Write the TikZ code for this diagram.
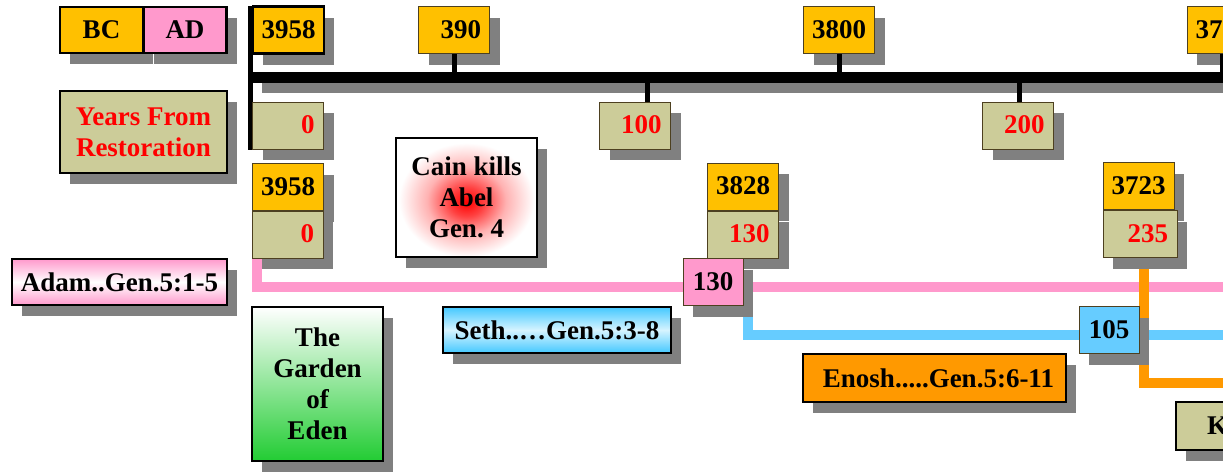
\documentclass[tikz,border=0pt]{standalone}
\usepackage{fontspec}
\setmainfont{Liberation Serif}
\usetikzlibrary{shadows,calc}
\frenchspacing
\definecolor{gold}{HTML}{FFC000}
\definecolor{pinkc}{HTML}{FF99CC}
\definecolor{khaki}{HTML}{CCCC99}
\definecolor{skyc}{HTML}{66CCFF}
\definecolor{sethtop}{HTML}{44C8FF}
\definecolor{sethmid}{HTML}{D6F4FF}
\definecolor{orangec}{HTML}{FF9900}
\definecolor{greenc}{HTML}{22CC33}
\definecolor{shadowgray}{HTML}{808080}
\definecolor{thinb}{HTML}{4D4020}
\pgfdeclareradialshading{cainglow}{\pgfpoint{0bp}{-2bp}}{color(0bp)=(red);color(6bp)=(red!75!white);color(14bp)=(red!30!white);color(24bp)=(white);color(50bp)=(white)}
\tikzset{
  shad/.style={drop shadow={shadow xshift=10pt,shadow yshift=-11pt,fill=shadowgray,opacity=1}},
  thickbox/.style={draw=black,line width=2.5pt,shad,inner sep=0pt,align=center},
  thinbox/.style={draw=thinb,line width=1pt,shad,inner sep=0pt},
  numtext/.style={align=right,text height=16pt,text depth=0pt},
  ybox/.style={thinbox,numtext,fill=gold,minimum width=71pt,minimum height=47pt,text width=54pt},
  kbox/.style={thinbox,numtext,fill=khaki,text=red,minimum width=71pt,minimum height=47pt,text width=53pt},
  cbox/.style={thinbox,align=center,text height=16pt,text depth=0pt,minimum width=60pt,minimum height=47pt},
  tickline/.style={line width=5pt},
  lifeline/.style={line width=9.5pt},
}
\begin{document}
\begin{tikzpicture}[x=1pt,y=-1pt,font=\fontsize{27}{31}\selectfont\bfseries]
\useasboundingbox (0,0) rectangle (1223,475);
\clip (0,0) rectangle (1223,475);

% timeline
\coordinate (tlL) at (248,77.5);
\coordinate (tlR) at (1240,77.5);
\coordinate (tsL) at (262,88);
\coordinate (tsR) at (1240,88);
\draw[shadowgray,line width=10pt] (tsL) -- (tsR);
\draw[line width=11pt] (tlL) -- (tlR);
\coordinate (vT) at (250.5,6);
\coordinate (vB) at (250.5,150);
\draw[line width=5pt] (vT) -- (vB);

% life lines
\coordinate (pinkA) at (257,258);
\coordinate (pinkB) at (257,287);
\coordinate (pinkC) at (1240,287);
\draw[lifeline,pinkc] (pinkA) -- (pinkB) -- (pinkC);
\coordinate (blueA) at (748,306);
\coordinate (blueB) at (748,335);
\coordinate (blueC) at (1240,335);
\draw[lifeline,skyc] (blueA) -- (blueB) -- (blueC);
\coordinate (oraA) at (1144,258);
\coordinate (oraB) at (1144,383);
\coordinate (oraC) at (1240,383);
\draw[lifeline,orangec] (oraA) -- (oraB) -- (oraC);

% legend
\node[thickbox,fill=gold,minimum width=83pt,minimum height=46pt] (bc) at (101.5,30) {BC};
\node[thickbox,fill=pinkc,minimum width=83pt,minimum height=46pt] (ad) at (185,30) {AD};
\node[thickbox,fill=khaki,text=red,minimum width=167pt,minimum height=82pt] (yfr) at (143.5,132) {Years From\\Restoration};

% timeline labels
\node[ybox,draw=black,line width=2.5pt] (t3958) at (288.5,30) {3958};
\node[ybox] (t390) at (454,30) {390};
\node[ybox] (t3800) at (839,30) {3800};
\node[ybox] (t37) at (1222.5,30) {3700};
\node[kbox] (k0) at (288,125.5) {0};
\node[kbox] (k100) at (635,125.5) {100};
\node[kbox] (k200) at (1018,125.5) {200};

% ticks
\draw[tickline] (t390.south) -- (t390.south |- tlL);
\draw[tickline] (t3800.south) -- (t3800.south |- tlL);
\draw[tickline] (t37.south) -- (t37.south |- tlL);
\draw[tickline] ($(k100.north)+(12,0)$) -- ($(k100.north |- tlL)+(12,0)$);
\draw[tickline] ($(k200.north)+(1,0)$) -- ($(k200.north |- tlL)+(1,0)$);

% event
\node[thickbox,shading=cainglow,minimum width=141pt,minimum height=119pt] (cain) at (466.5,197.5) {Cain kills\\Abel\\Gen. 4};

% births
\node[ybox] (b3958) at (288,187) {3958};
\node[kbox] (b0) at (287.5,234.5) {0};
\node[ybox] (b3828) at (743,186.5) {3828};
\node[kbox] (b130) at (743,234.5) {130};
\node[ybox] (b3723) at (1138.5,186) {3723};
\node[kbox,minimum width=74pt,text width=56pt] (b235) at (1140,234) {235};

% begetting ages
\node[cbox,fill=pinkc] (a130) at (713,282) {130};
\node[cbox,fill=skyc] (a105) at (1109,330) {105};

% persons
\node[thickbox,top color=pinkc,bottom color=pinkc,middle color=white,minimum width=215pt,minimum height=46pt] (adam) at (119.5,282) {Adam..Gen.5:1-5};
\node[thickbox,top color=sethtop,bottom color=sethtop,middle color=sethmid,minimum width=228pt,minimum height=46pt] (seth) at (557,330) {Seth..…Gen.5:3-8};
\node[thickbox,fill=orangec,minimum width=263pt,minimum height=48pt,text width=239pt,align=right] (enosh) at (934.5,378) {Enosh.....Gen.5:6-11};
\node[thickbox,fill=khaki,minimum width=200pt,minimum height=48pt,text width=138pt,align=left] (kenan) at (1276,426) {K};
\node[thickbox,top color=white,bottom color=greenc,minimum width=131pt,minimum height=154pt] (eden) at (317.5,384) {The\\Garden\\of\\Eden};
\end{tikzpicture}
\end{document}
